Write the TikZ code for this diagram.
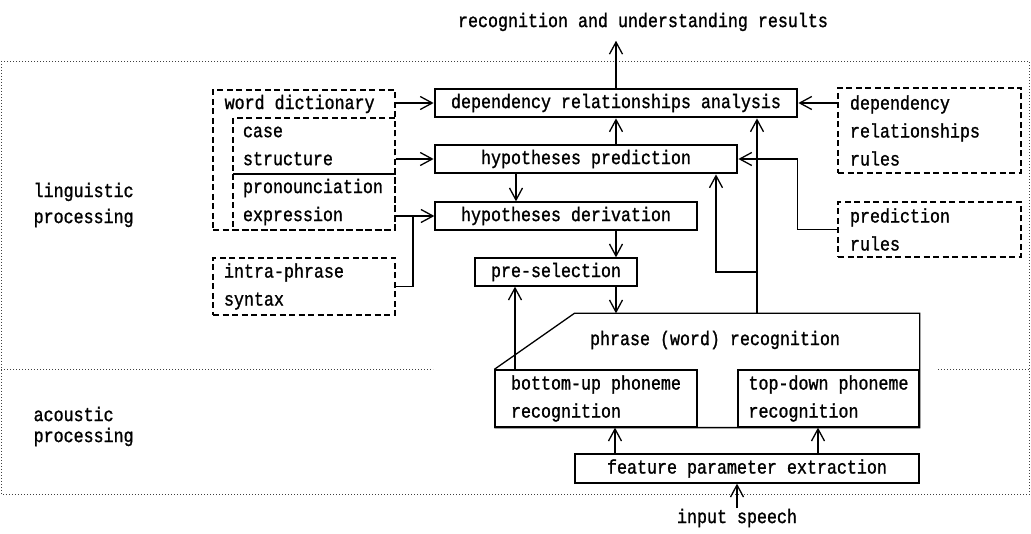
\documentclass[tikz,border=0pt]{standalone}
\usepackage{fontspec}
\setmonofont{Liberation Mono}[FakeStretch=0.85, FakeBold=1.2]
\usetikzlibrary{arrows.meta}
\tikzset{
	box/.style={draw, line width=1.3pt, minimum height=28pt, inner sep=0pt},
	heavybox/.style={box, line width=2.8pt},
	dashbox/.style={draw, line width=1.1pt, dash pattern=on 6pt off 3.5pt, inner sep=0pt, align=left},
	region/.style={line width=0.9pt, black!75, dash pattern=on 0.9pt off 2.1pt},
	lbl/.style={inner sep=0pt, align=left},
}
\begin{document}
\begin{tikzpicture}[x=1pt, y=-1pt, line width=1.3pt,
	font=\ttfamily\fontsize{19.6}{28}\selectfont,
	>={Straight Barb[length=12pt, width=13pt]}]
	\useasboundingbox (0,0) rectangle (1031,534);
	%
	\def\colx{616}% main column
	\def\fbx{757}% feedback column
	% processing regions
	\draw[region] (1,61) rectangle (1029.5,494);
	\draw[region] (1,369) -- (433,369) (938,369) -- (1029.5,369);
	\node[lbl, anchor=west, font=\ttfamily\fontsize{19.6}{26}\selectfont] (ling) at (33,205) {linguistic\\processing};
	\node[lbl, anchor=west, font=\ttfamily\fontsize{19.6}{21}\selectfont] (acou) at (33,426.5) {acoustic\\processing};
	% outside texts
	\node[lbl] (result) at (643,22) {recognition and understanding results};
	\node[lbl] (input) at (737,518) {input speech};
	% knowledge sources
	\node[dashbox, minimum width=182, minimum height=140] (dict) at (304,160) {};
	\node[lbl, anchor=west] (dictname) at (224,104) {word dictionary};
	\node[dashbox, minimum width=162, minimum height=56, text width=142] (casebox) at (314,146) {case\\structure};
	\node[dashbox, minimum width=162, minimum height=56, text width=142] (pronbox) at (314,202) {pronounciation\\expression};
	\node[dashbox, minimum width=182, minimum height=57, text width=160] (syntax) at (304,286.5) {intra-phrase\\syntax};
	\node[dashbox, minimum width=183, minimum height=85, text width=159] (deprules) at (929.5,130.5) {dependency\\relationships\\rules};
	\node[dashbox, minimum width=183, minimum height=55, text width=159] (predrules) at (929.5,229.5) {prediction\\rules};
	% processing stages
	\node[heavybox, minimum width=362] (dep) at (616,103) {dependency relationships analysis};
	\node[heavybox, minimum width=302] (hyppred) at (586,159) {hypotheses prediction};
	\node[box, minimum width=262] (hypder) at (566,216) {hypotheses derivation};
	\node[box, minimum width=162] (presel) at (556,272) {pre-selection};
	\node[box, minimum width=202, minimum height=57, align=left] (bottomup) at (596,398.5) {bottom-up phoneme\\recognition};
	\node[box, minimum width=181, minimum height=57, align=left] (topdown) at (828.5,398.5) {top-down phoneme\\recognition};
	\node[box, minimum width=344, minimum height=29] (feature) at (747,468.5) {feature parameter extraction};
	\node[lbl] (phrase) at (715,340) {phrase (word) recognition};
	\draw (bottomup.north west) -- ++(80,-56) coordinate (phrasetop) -| (topdown.south east) -- (bottomup.south west);
	% connections
	\draw[->, shorten >=9pt] (dep.north) -- (dep.north |- result.south);
	\foreach \a/\b in {dict/dep,casebox/hyppred,pronbox/hypder}
		\draw[->] (\a.east |- \b.west) -- (\b.west);
	\coordinate (join) at (413,0 |- hypder.west);
	\draw (syntax.east) -| (join);
	\draw[->] (deprules.west |- dep.east) -- (dep.east);
	\draw[->] (predrules.west) -- ++(-40,0) |- (hyppred.east);
	\draw[->] (\colx,0 |- hyppred.north) -- (\colx,0 |- dep.south);
	\draw[->] (516,0 |- hyppred.south) -- (516,0 |- hypder.north);
	\draw[->] (\colx,0 |- hypder.south) -- (\colx,0 |- presel.north);
	\draw[->] (\colx,0 |- presel.south) -- (\colx,0 |- phrasetop);
	\draw[->] (515,0 |- bottomup.north) -- (515,0 |- presel.south);
	% feedback
	\draw[->] (\fbx,0 |- phrasetop) -- (\fbx,0 |- dep.south);
	\coordinate (fork) at (\fbx,272);
	\draw[->] (fork) -| (716,0 |- hyppred.south);
	\foreach \x/\n in {615/bottomup,818/topdown}
		\draw[->] (\x,0 |- feature.north) -- (\x,0 |- \n.south);
	\draw[->] (input.north) -- (feature.south -| input.north);
\end{tikzpicture}
\end{document}
